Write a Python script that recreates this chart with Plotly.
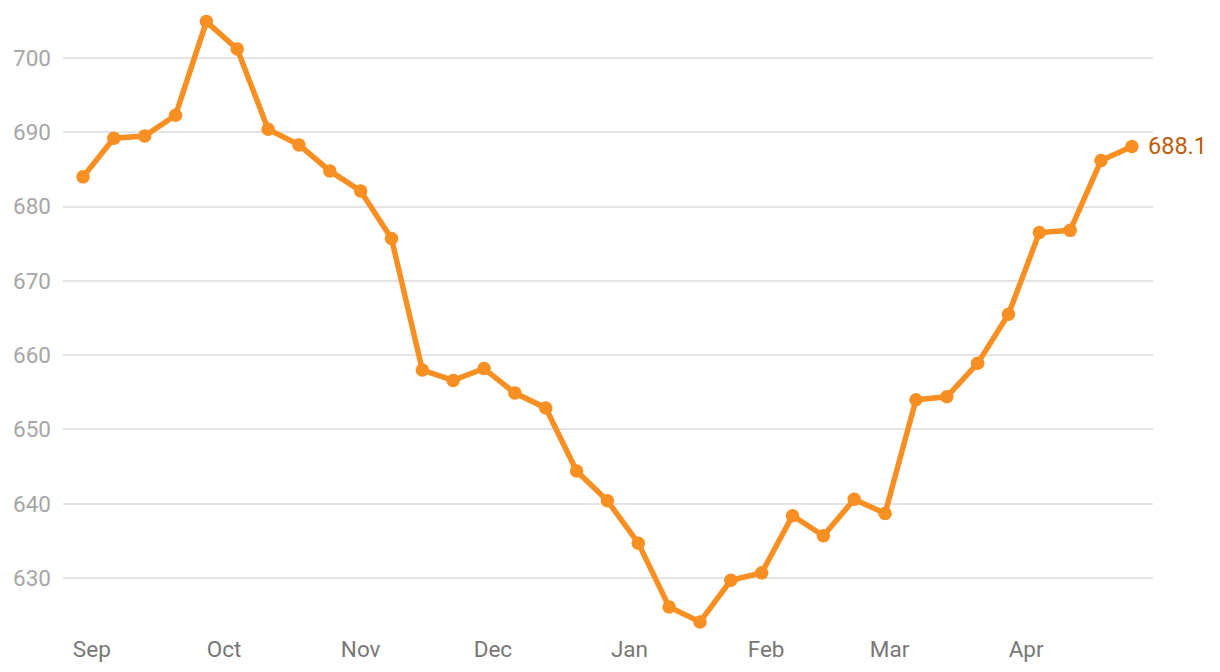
import plotly.graph_objects as go

dates = [
    "2021-08-30", "2021-09-06", "2021-09-13", "2021-09-20", "2021-09-27",
    "2021-10-04", "2021-10-11", "2021-10-18", "2021-10-25", "2021-11-01",
    "2021-11-08", "2021-11-15", "2021-11-22", "2021-11-29", "2021-12-06",
    "2021-12-13", "2021-12-20", "2021-12-27", "2022-01-03", "2022-01-10",
    "2022-01-17", "2022-01-24", "2022-01-31", "2022-02-07", "2022-02-14",
    "2022-02-21", "2022-02-28", "2022-03-07", "2022-03-14", "2022-03-21",
    "2022-03-28", "2022-04-04", "2022-04-11", "2022-04-18", "2022-04-25",
]
values = [
    684.0, 689.2, 689.5, 692.3, 704.9, 701.2, 690.4, 688.3, 684.8, 682.1,
    675.7, 658.0, 656.6, 658.2, 654.9, 652.9, 644.4, 640.4, 634.7, 626.1,
    624.1, 629.7, 630.7, 638.4, 635.7, 640.6, 638.7, 654.0, 654.4, 658.9,
    665.5, 676.5, 676.8, 686.2, 688.1,
]
y_ticks = [630, 640, 650, 660, 670, 680, 690, 700]

line_color = "#f78f22"
label_color = "#bc5e0b"

fig = go.Figure()
fig.add_trace(go.Scatter(
    x=dates, y=values, mode="lines+markers",
    line=dict(color=line_color, width=5.5),
    marker=dict(color=line_color, size=13.5),
    hoverinfo="skip", showlegend=False,
))
fig.add_annotation(
    x=dates[-1], y=values[-1], text=f"{values[-1]:.1f}",
    showarrow=False, xanchor="left", yanchor="middle", xshift=14,
    font=dict(family="Roboto", size=23.5, color=label_color),
)

fig.update_layout(
    width=1220, height=672,
    margin=dict(l=55, r=75, t=2, b=50, autoexpand=False),
    paper_bgcolor="white", plot_bgcolor="white",
    font=dict(family="Roboto"),
    xaxis=dict(
        type="date",
        range=["2021-08-25 11:00", "2022-04-29 19:00"],
        dtick="M1", tick0="2021-09-01", tickformat="%b",
        showgrid=False, zeroline=False, showline=False, ticks="",
        ticklabelstandoff=3,
        tickfont=dict(family="Roboto", size=22.5, color="#777777"),
    ),
    yaxis=dict(
        range=[623.01, 706.46],
        tickvals=y_ticks,
        showgrid=True, gridcolor="#e4e4e4", gridwidth=2,
        zeroline=False, showline=False, ticks="",
        ticklabelstandoff=11,
        tickfont=dict(family="Roboto", size=22.5, color="#a6a6a6"),
    ),
)

fig.write_html("out.html")
